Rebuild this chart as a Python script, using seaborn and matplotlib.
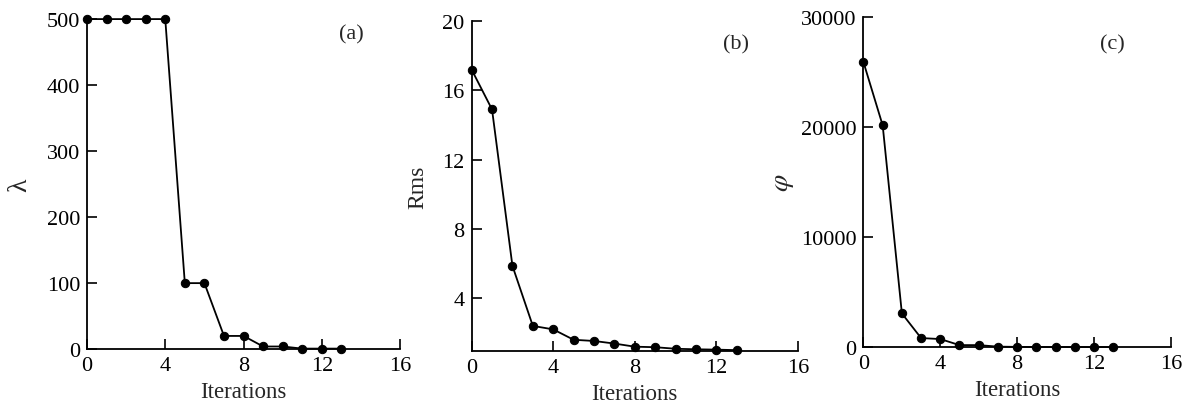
import matplotlib
matplotlib.use("Agg")
import matplotlib.pyplot as plt
import seaborn as sns
import pandas as pd

iterations = list(range(14))
lambda_vals = [500, 500, 500, 500, 500, 100, 100, 20, 20, 4, 4, 0.8, 0.8, 0.8]
rms_vals = [17.2, 14.9, 5.87, 2.4, 2.2, 1.6, 1.53, 1.38, 1.2, 1.17, 1.08, 1.05, 1.03, 1.0]
phi_vals = [25900, 20150, 3060, 820, 730, 180, 180, 40, 20, 10, 8, 6, 5, 4]

x_ticks = [0, 4, 8, 12, 16]
panels = [
    dict(vals=lambda_vals, ylabel="\u03bb", ylim=(0, 500), yticks=[0, 100, 200, 300, 400, 500],
         tag="(a)", rect=[0.073, 0.146, 0.263, 0.805], ylab_x=-0.215, ylab_fs=20, tagpos=(0.845, 0.955)),
    dict(vals=rms_vals, ylabel="Rms", ylim=(0.94, 20), yticks=[4, 8, 12, 16, 20],
         tag="(b)", rect=[0.396, 0.141, 0.274, 0.805], ylab_x=-0.166, ylab_fs=17, tagpos=(0.81, 0.93)),
    dict(vals=phi_vals, ylabel=r"$\varphi$", ylim=(0, 30000), yticks=[0, 10000, 20000, 30000],
         tag="(c)", rect=[0.725, 0.151, 0.258, 0.805], ylab_x=-0.26, ylab_fs=20, tagpos=(0.81, 0.92)),
]

sns.set_theme(style="ticks")
plt.rcParams["font.family"] = ["Liberation Serif", "DejaVu Serif"]
plt.rcParams["mathtext.fontset"] = "stix"

fig = plt.figure(figsize=(11.91, 4.10), dpi=100)
for p in panels:
    ax = fig.add_axes(p["rect"])
    df = pd.DataFrame({"Iterations": iterations, "val": p["vals"]})
    sns.lineplot(data=df, x="Iterations", y="val", ax=ax, color="black", marker="o",
                 markersize=6, markeredgecolor="black", linewidth=1.3, clip_on=False)
    ax.set_xlim(0, 16)
    ax.set_ylim(*p["ylim"])
    ax.set_xticks(x_ticks)
    ax.set_yticks(p["yticks"])
    ax.tick_params(direction="in", length=7.5, width=1.2, labelsize=16, colors="black", pad=5)
    for s in ["top", "right"]:
        ax.spines[s].set_visible(False)
    for s in ["left", "bottom"]:
        ax.spines[s].set_linewidth(1.3)
        ax.spines[s].set_color("black")
    ax.set_xlabel("Iterations", fontsize=16.5, va="center")
    ax.xaxis.set_label_coords(0.5, -0.128)
    ax.set_ylabel(p["ylabel"], fontsize=p["ylab_fs"], va="center")
    ax.yaxis.set_label_coords(p["ylab_x"], 0.5)
    ax.text(p["tagpos"][0], p["tagpos"][1], p["tag"], transform=ax.transAxes,
            fontsize=16, ha="center", va="center")

fig.savefig("out.png", dpi=100)
